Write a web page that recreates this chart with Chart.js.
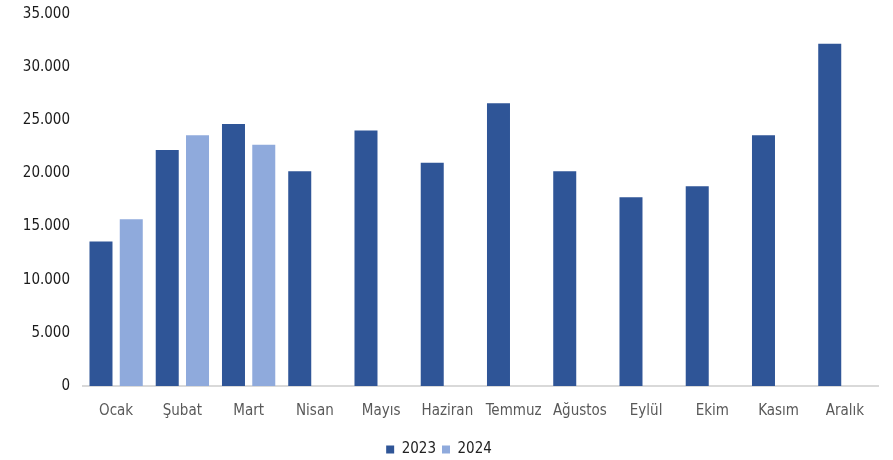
<!DOCTYPE html>
<html>

<head>
    <title>Aylara göre</title>
    <script src="https://cdn.jsdelivr.net/npm/chart.js@4.4.1/dist/chart.umd.min.js"></script>
    <style>
        body { margin: 0; background: #ffffff; overflow: hidden; }
        #wrap { width: 893px; height: 460px; overflow: hidden; }
        #chart { display: block; margin-top: -8px; }
    </style>
    <script>
        var months = ["Ocak", "Şubat", "Mart", "Nisan", "Mayıs", "Haziran", "Temmuz", "Ağustos", "Eylül", "Ekim", "Kasım", "Aralık"];
        var values2023 = [13600, 22200, 24650, 20200, 24050, 21000, 26600, 20200, 17750, 18800, 23600, 32200];
        var values2024 = [15700, 23600, 22700, null, null, null, null, null, null, null, null, null];
        var yTicks = [0, 5000, 10000, 15000, 20000, 25000, 30000, 35000];

        function fmt(v) {
            return String(v).replace(/\B(?=(\d{3})+(?!\d))/g, ".");
        }

        window.addEventListener('load', function () {
            Chart.defaults.font.family = "'DejaVu Sans Condensed', 'DejaVu Sans', sans-serif";
            Chart.defaults.font.size = 15;
            new Chart(document.getElementById('chart').getContext('2d'), {
                type: 'bar',
                data: {
                    labels: months,
                    datasets: [{
                        label: "2023",
                        data: values2023,
                        backgroundColor: "#2F5597",
                        categoryPercentage: 0.914,
                        barPercentage: 0.76
                    }, {
                        label: "2024",
                        data: values2024,
                        backgroundColor: "#8FAADC",
                        categoryPercentage: 0.914,
                        barPercentage: 0.76
                    }]
                },
                options: {
                    responsive: false,
                    animation: false,
                    layout: { padding: { top: 0, right: 15, left: 0, bottom: 0 } },
                    plugins: {
                        tooltip: { enabled: false },
                        legend: {
                            position: 'bottom',
                            labels: {
                                boxWidth: 8,
                                boxHeight: 8,
                                padding: 6,
                                color: '#222222',
                                font: { size: 15 }
                            }
                        }
                    },
                    scales: {
                        x: {
                            grid: { display: false, drawTicks: false },
                            border: { color: '#d9d9d9', width: 2 },
                            ticks: { color: '#595959', padding: 16, maxRotation: 0, autoSkip: false }
                        },
                        y: {
                            min: 0,
                            max: 35000,
                            afterBuildTicks: function (scale) {
                                scale.ticks = yTicks.map(function (v) { return { value: v }; });
                            },
                            afterFit: function (scale) { scale.width = 83; },
                            grid: { display: false, drawTicks: false },
                            border: { display: false },
                            ticks: {
                                color: '#1a1a1a',
                                padding: 13,
                                callback: function (v) { return fmt(v); }
                            }
                        }
                    }
                }
            });
        });
    </script>
</head>

<body>
    <div id="wrap"><canvas id="chart" width="893" height="475"></canvas></div>
</body>

</html>
